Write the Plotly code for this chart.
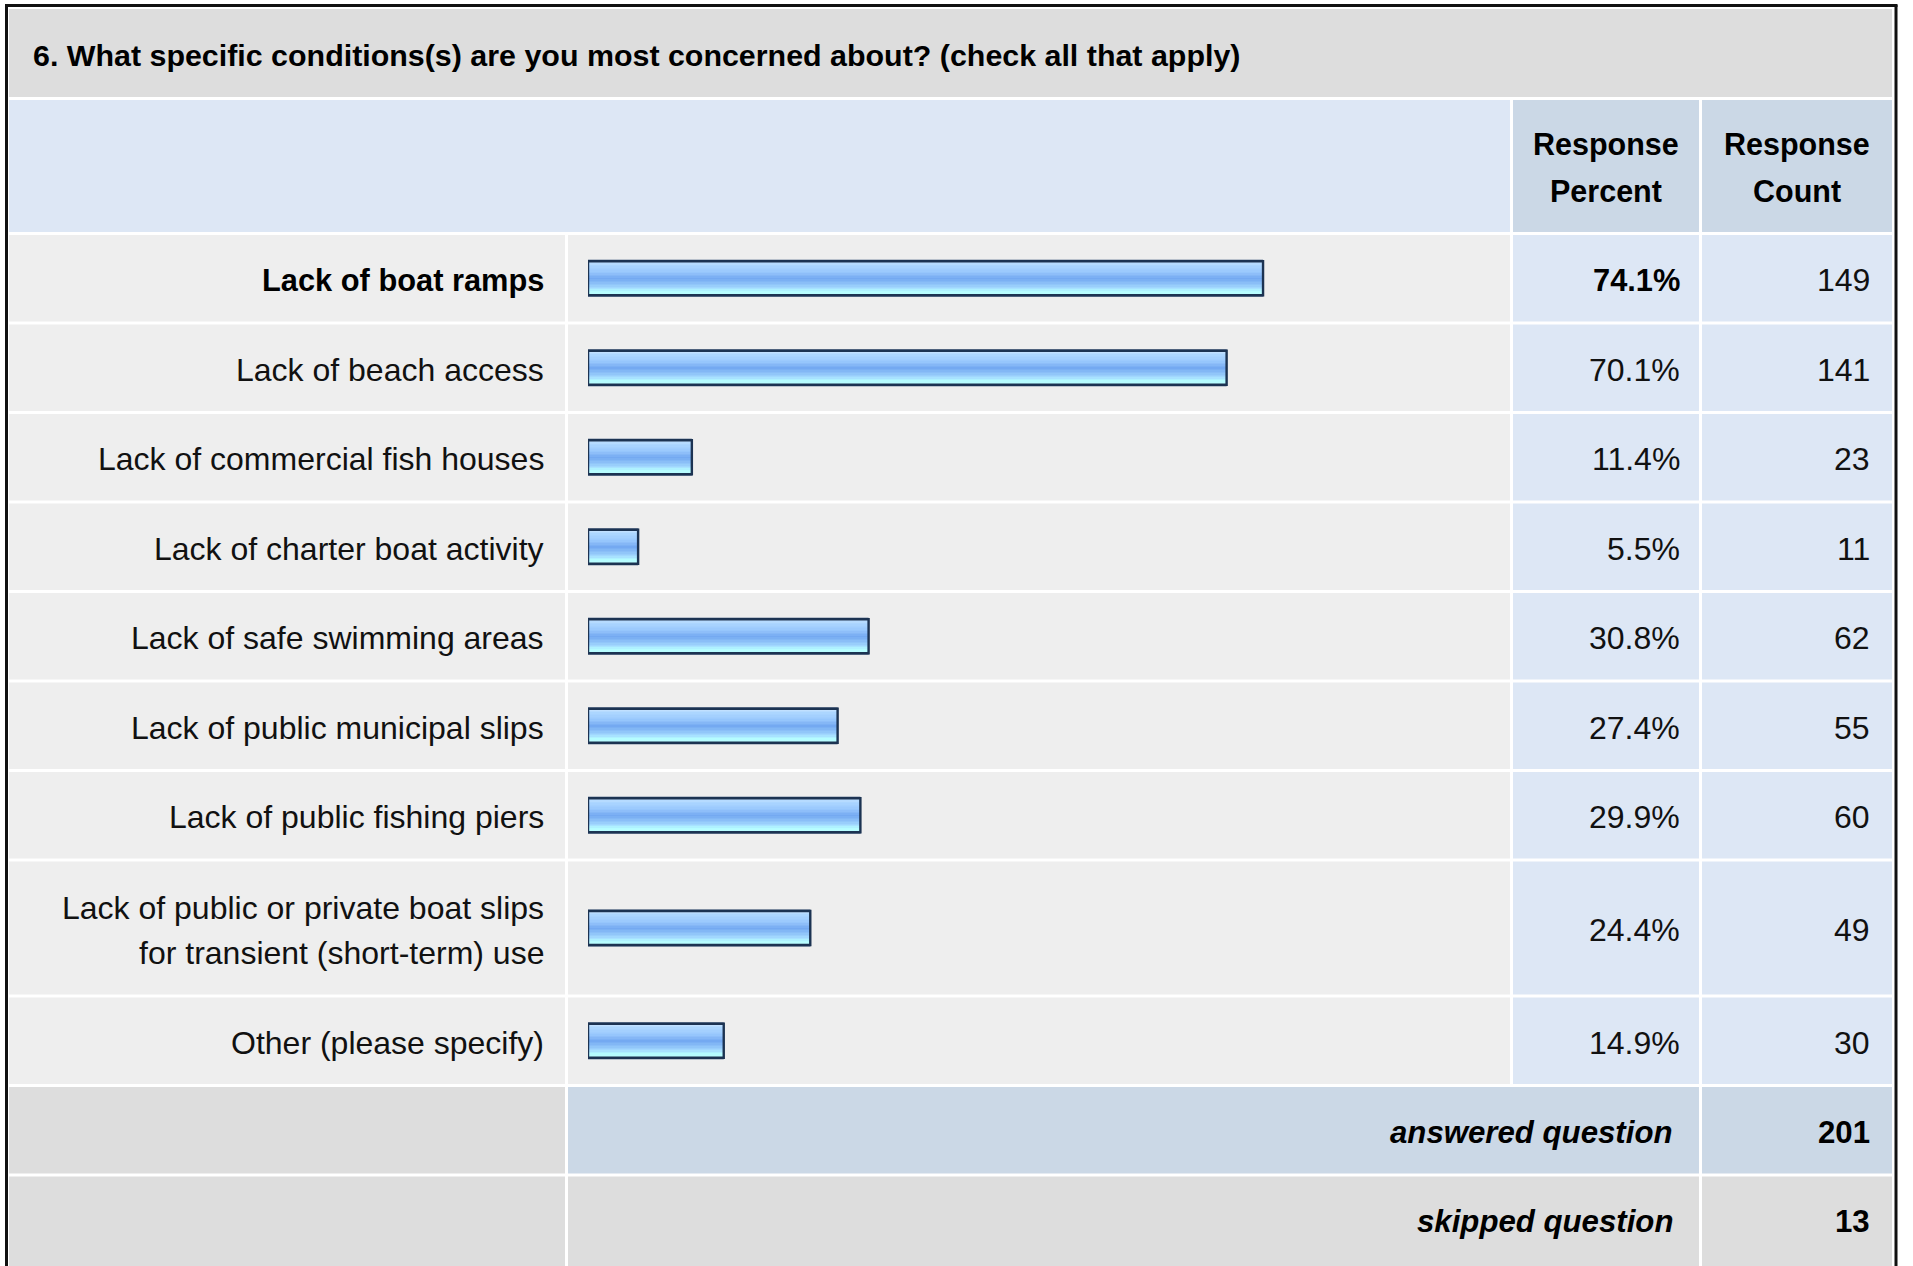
import plotly.graph_objects as go

# ---- survey data ----
question = "6. What specific conditions(s) are you most concerned about? (check all that apply)"
answer_labels = [
    "Lack of boat ramps",
    "Lack of beach access",
    "Lack of commercial fish houses",
    "Lack of charter boat activity",
    "Lack of safe swimming areas",
    "Lack of public municipal slips",
    "Lack of public fishing piers",
    "Lack of public or private boat slips<br>for transient (short-term) use",
    "Other (please specify)",
]
response_percent = [74.1, 70.1, 11.4, 5.5, 30.8, 27.4, 29.9, 24.4, 14.9]
response_count = [149, 141, 23, 11, 62, 55, 60, 49, 30]
answered_question = 201
skipped_question = 13

# ---- page geometry (pixels) ----
W, H = 1913, 1266
FONT = "Liberation Sans, Arial, Helvetica, sans-serif"
FS = 32
FS_BOLD = 30.8
FS_BOLD_HEAD = 30.5
TXT = "#111111"

LEFT, RIGHT = 9, 1892
COL_LABEL = (LEFT, 565)
COL_BAR = (568, 1510)
COL_PCT = (1513, 1699)
COL_CNT = (1702, RIGHT)
TITLE_Y = (9, 97)
HEAD_Y = (100, 232)
ROW_H = 89.5
row_heights = [ROW_H] * 7 + [136] + [ROW_H]
GAP = 1.5

# row boundaries
bounds = [233.5]
for h in row_heights:
    bounds.append(bounds[-1] + h)
ans_top, ans_bot = bounds[-1], bounds[-1] + ROW_H
skip_top, skip_bot = ans_bot, ans_bot + ROW_H
row_centers = [(bounds[i] + bounds[i + 1]) / 2 for i in range(len(row_heights))]

C_TITLE = "#dddddd"
C_HEAD = "#dde7f5"
C_HEAD_COL = "#cbd8e6"
C_BODY = "#eeeeee"
C_BODY_NUM = "#dde7f5"

shapes = []


def cell(x0, x1, y0, y1, color):
    shapes.append(dict(type="rect", xref="x", yref="y", x0=x0, x1=x1, y0=y0, y1=y1,
                       fillcolor=color, line=dict(width=0), layer="below"))


# title band and header
cell(LEFT, RIGHT, TITLE_Y[0], TITLE_Y[1], C_TITLE)
cell(LEFT, COL_BAR[1], HEAD_Y[0], HEAD_Y[1], C_HEAD)
cell(COL_PCT[0], COL_PCT[1], HEAD_Y[0], HEAD_Y[1], C_HEAD_COL)
cell(COL_CNT[0], COL_CNT[1], HEAD_Y[0], HEAD_Y[1], C_HEAD_COL)

# body rows
for i in range(len(row_heights)):
    y0, y1 = bounds[i] + GAP, bounds[i + 1] - GAP
    cell(COL_LABEL[0], COL_LABEL[1], y0, y1, C_BODY)
    cell(COL_BAR[0], COL_BAR[1], y0, y1, C_BODY)
    cell(COL_PCT[0], COL_PCT[1], y0, y1, C_BODY_NUM)
    cell(COL_CNT[0], COL_CNT[1], y0, y1, C_BODY_NUM)

# summary rows
cell(COL_LABEL[0], COL_LABEL[1], ans_top + GAP, ans_bot - GAP, C_TITLE)
cell(COL_BAR[0], COL_PCT[1], ans_top + GAP, ans_bot - GAP, C_HEAD_COL)
cell(COL_CNT[0], COL_CNT[1], ans_top + GAP, ans_bot - GAP, C_HEAD_COL)
cell(COL_LABEL[0], COL_LABEL[1], skip_top + GAP, H + 5, C_TITLE)
cell(COL_BAR[0], COL_PCT[1], skip_top + GAP, H + 5, C_TITLE)
cell(COL_CNT[0], COL_CNT[1], skip_top + GAP, H + 5, C_TITLE)

# outer frame (left, top, right)
for x0, y0, x1, y1 in [(6.5, 5, 6.5, H + 5), (5, 5.5, 1897.5, 5.5), (1896, 5, 1896, H + 5)]:
    shapes.append(dict(type="line", xref="x", yref="y", x0=x0, y0=y0, x1=x1, y1=y1,
                       line=dict(color="#111111", width=3), layer="above"))

annotations = []


def text(s, x, y, anchor="right", size=FS, color=TXT):
    annotations.append(dict(text=s, x=x, y=y, xref="x", yref="y", xanchor=anchor,
                            yanchor="middle", showarrow=False,
                            font=dict(family=FONT, size=size, color=color)))


text("<b>" + question + "</b>", 31, 55, anchor="left", size=30.4, color="#000")
for cx, (l1, l2) in [((COL_PCT[0] + COL_PCT[1]) / 2, ("Response", "Percent")),
                     ((COL_CNT[0] + COL_CNT[1]) / 2, ("Response", "Count"))]:
    text("<b>" + l1 + "</b>", cx, 144, anchor="center", size=FS_BOLD_HEAD, color="#000")
    text("<b>" + l2 + "</b>", cx, 191, anchor="center", size=FS_BOLD_HEAD, color="#000")

top_idx = response_percent.index(max(response_percent))
LINE_GAP = 45
for i, (lab, pct, cnt) in enumerate(zip(answer_labels, response_percent, response_count)):
    yc = row_centers[i] + 2
    lines = lab.split("<br>")
    start = yc - LINE_GAP * (len(lines) - 1) / 2
    for k, ln in enumerate(lines):
        if i == top_idx:
            text("<b>" + ln + "</b>", 546, start + k * LINE_GAP, size=FS_BOLD, color="#000")
        else:
            text(ln, 546, start + k * LINE_GAP)
    p = f"{pct:.1f}%"
    if i == top_idx:
        text("<b>" + p + "</b>", 1682, yc, size=FS_BOLD, color="#000")
    else:
        text(p, 1682, yc)
    text(str(cnt), 1872, yc)

text("<b><i>answered question</i></b>", 1675, (ans_top + ans_bot) / 2 + 2, size=31.2, color="#000")
text("<b>" + str(answered_question) + "</b>", 1872, (ans_top + ans_bot) / 2 + 2, size=31.2, color="#000")
text("<b><i>skipped question</i></b>", 1675, (skip_top + skip_bot) / 2 + 2, size=31.2, color="#000")
text("<b>" + str(skipped_question) + "</b>", 1872, (skip_top + skip_bot) / 2 + 2, size=31.2, color="#000")

# ---- glossy bars: a vertical gradient built from thin stacked stripes ----
BAR_H = 35
grad_stops = [
    (0.00, (0xd2, 0xe8, 0xff)),
    (0.14, (0xad, 0xd6, 0xff)),
    (0.34, (0x99, 0xc8, 0xfd)),
    (0.52, (0x74, 0xa9, 0xf1)),
    (0.66, (0x8c, 0xc0, 0xf8)),
    (0.80, (0xa6, 0xdd, 0xff)),
    (0.88, (0xb4, 0xfb, 0xff)),
    (1.00, (0xbc, 0xff, 0xff)),
]


def grad_color(t):
    for (t0, c0), (t1, c1) in zip(grad_stops[:-1], grad_stops[1:]):
        if t0 <= t <= t1:
            f = (t - t0) / (t1 - t0)
            return "rgb(%d,%d,%d)" % tuple(round(a + (b - a) * f) for a, b in zip(c0, c1))
    return "rgb(%d,%d,%d)" % grad_stops[-1][1]


N_STRIPES = 24
fig = go.Figure()
for k in range(N_STRIPES):
    a, b = k / N_STRIPES, (k + 1) / N_STRIPES
    fig.add_trace(go.Bar(
        x=response_percent, y=row_centers, orientation="h",
        xaxis="x2", yaxis="y",
        width=(b - a) * BAR_H + 0.4, offset=-BAR_H / 2 + a * BAR_H,
        marker=dict(color=grad_color((a + b) / 2), line=dict(width=0)),
        hoverinfo="skip", showlegend=False,
    ))
# soft grey halo and dark navy outline
fig.add_trace(go.Bar(
    x=response_percent, y=row_centers, orientation="h", xaxis="x2", yaxis="y",
    width=BAR_H + 1.5, offset=-(BAR_H + 1.5) / 2,
    marker=dict(color="rgba(0,0,0,0)", line=dict(width=1, color="#8393a8")),
    hoverinfo="skip", showlegend=False,
))
fig.add_trace(go.Bar(
    x=response_percent, y=row_centers, orientation="h", xaxis="x2", yaxis="y",
    width=BAR_H - 1, offset=-(BAR_H - 1) / 2,
    marker=dict(color="rgba(0,0,0,0)", line=dict(width=2.4, color="#1c3352")),
    customdata=answer_labels,
    hovertemplate="%{customdata}: %{x:.1f}%<extra></extra>", showlegend=False,
))

fig.update_layout(
    width=W, height=H,
    margin=dict(l=0, r=0, t=0, b=0),
    paper_bgcolor="white", plot_bgcolor="rgba(0,0,0,0)",
    barmode="overlay",
    xaxis=dict(domain=[0, 1], range=[0, W], visible=False, fixedrange=True),
    xaxis2=dict(domain=[588 / W, 1499 / W], range=[0, 100], anchor="y",
                visible=False, fixedrange=True),
    yaxis=dict(domain=[0, 1], range=[H, 0], visible=False, anchor="x", fixedrange=True),
    shapes=shapes,
    annotations=annotations,
)

fig.write_html("out.html", config=dict(displayModeBar=False))
